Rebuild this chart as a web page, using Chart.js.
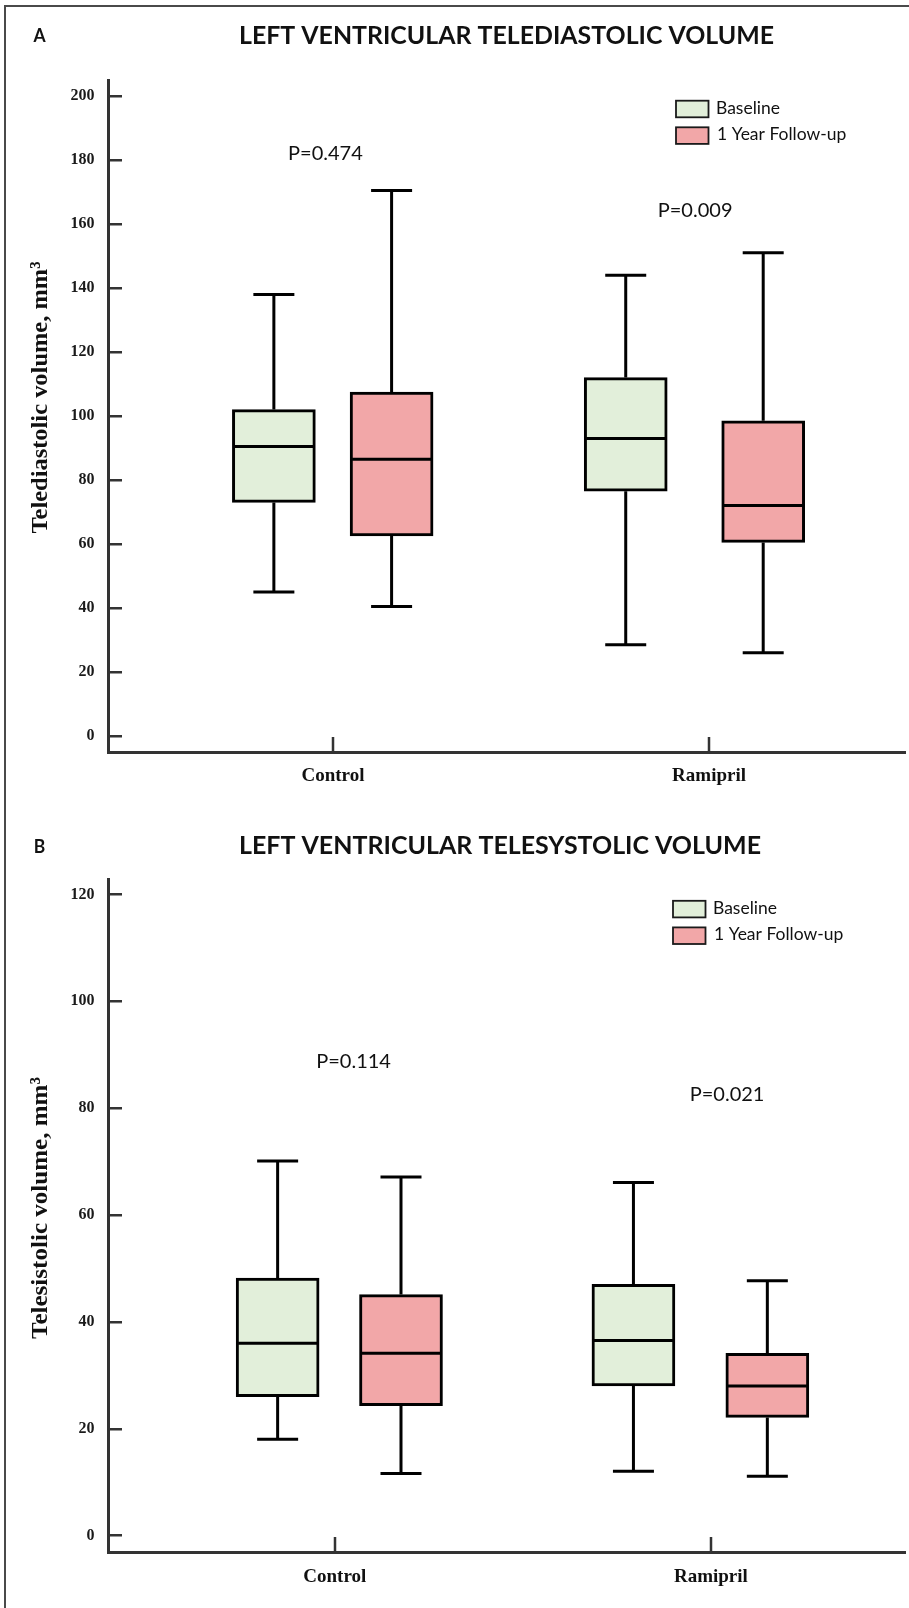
<!DOCTYPE html>
<html><head><meta charset="utf-8">
<script src="https://cdn.jsdelivr.net/npm/chart.js@4.4.0/dist/chart.umd.min.js"></script>
<style>
html,body{margin:0;padding:0;background:#fff;}
#wrap{position:relative;width:909px;height:1608px;overflow:hidden;background:#fff;}
#frame{position:absolute;left:4px;top:5px;width:910px;height:1620px;border-top:2px solid #4a4a4a;border-left:2px solid #4a4a4a;box-sizing:border-box;}
.panel{position:absolute;left:0;width:909px;}
#pa{top:0;height:800px;}
#pb{top:800px;height:808px;}
canvas{display:block;}
</style></head><body>
<div id="wrap"><div id="frame"></div>
<div class="panel" id="pa"><canvas id="ca" width="909" height="800"></canvas></div>
<div class="panel" id="pb"><canvas id="cb" width="909" height="808"></canvas></div>
</div>
<script>
// ---------------- DATA ----------------
const categories = ['Control', 'Ramipril'];
const seriesLabels = ['Baseline', '1 Year Follow-up'];
// five-number summaries per category: [min, q1, median, q3, max]
const tdvBaseline = [[45, 73, 90.5, 102, 138], [28.5, 76.5, 93, 112, 144]];
const tdvFollowUp = [[40.5, 62.5, 86.5, 107.5, 170.5], [26, 60.5, 72, 98.5, 151]];
const tsvBaseline = [[18, 26, 36, 48.2, 70.1], [12, 28, 36.5, 47, 66.1]];
const tsvFollowUp = [[11.6, 24.3, 34.1, 45.1, 67.1], [11.1, 22.1, 28, 34.1, 47.7]];
const tdvTicks = [0, 20, 40, 60, 80, 100, 120, 140, 160, 180, 200];
const tsvTicks = [0, 20, 40, 60, 80, 100, 120];
const tdvPValues = ['P=0.474', 'P=0.009'];
const tsvPValues = ['P=0.114', 'P=0.021'];
const titleA = 'LEFT VENTRICULAR TELEDIASTOLIC VOLUME';
const titleB = 'LEFT VENTRICULAR TELESYSTOLIC VOLUME';
const yTitleA = 'Telediastolic volume, mm\u00B3';
const yTitleB = 'Telesistolic volume, mm\u00B3';

// ---------------- STYLE / LAYOUT ----------------
const COLORS = ['#E2EFDA', '#F2A7A8'];
const AXIS_COLOR = '#333333';
const LAYOUT_A = {
  top: 80, xAxisH: 48, yMin: -5, yMax: 205, xMin: 0.402, xMax: 2.521,
  boxX: [[0.843, 1.156], [1.7785, 2.144]],
  pPos: [[0.98, 182], [1.963, 164.1]],
  letter: 'A', letterY: 36, title: titleA, titleX: 239, titleY: 36, titleW: 535,
  yTitle: yTitleA, yTitleY: 397.5, yTitleW: 272,
  legendX: 676, legendY: 100.7, xLabelPad: 13
};
const LAYOUT_B = {
  top: 79, xAxisH: 56, yMin: -3.1, yMax: 122.9, xMin: 0.397, xMax: 2.516,
  boxX: [[0.848, 1.176], [1.794, 2.150]],
  pPos: [[1.05, 88.7], [2.043, 82.6]],
  letter: 'B', letterY: 46.5, title: titleB, titleX: 239, titleY: 45.5, titleW: 522,
  yTitle: yTitleB, yTitleY: 408, yTitleW: 262,
  legendX: 673, legendY: 100.8, xLabelPad: 13.5
};

function drawText(ctx, text, x, y, font, align, sx, baseline) {
  ctx.save();
  ctx.font = font;
  ctx.textAlign = align;
  ctx.textBaseline = baseline || 'middle';
  ctx.translate(x, y);
  ctx.scale(sx, 1);
  ctx.fillText(text, 0, 0);
  ctx.restore();
}

const boxPlugin = {
  id: 'boxWhiskers',
  afterDatasetsDraw(chart) {
    const ctx = chart.ctx, ys = chart.scales.y;
    chart.data.datasets.forEach((ds, di) => {
      const meta = chart.getDatasetMeta(di);
      meta.data.forEach((bar, i) => {
        const st = ds.data[i].stats;
        const x = bar.x, w = bar.width;
        const pMin = ys.getPixelForValue(st[0]), pQ1 = ys.getPixelForValue(st[1]);
        const pMed = ys.getPixelForValue(st[2]), pQ3 = ys.getPixelForValue(st[3]);
        const pMax = ys.getPixelForValue(st[4]);
        ctx.save();
        ctx.strokeStyle = '#000';
        ctx.lineWidth = 3;
        ctx.lineCap = 'butt';
        ctx.beginPath();
        ctx.moveTo(x, pMax); ctx.lineTo(x, pQ3);
        ctx.moveTo(x, pQ1); ctx.lineTo(x, pMin);
        ctx.moveTo(x - 20.5, pMax); ctx.lineTo(x + 20.5, pMax);
        ctx.moveTo(x - 20.5, pMin); ctx.lineTo(x + 20.5, pMin);
        ctx.moveTo(x - w / 2 + 2, pMed); ctx.lineTo(x + w / 2 - 2, pMed);
        ctx.stroke();
        ctx.restore();
      });
    });
  }
};

const inwardTicks = {
  id: 'inwardTicks',
  afterDraw(chart) {
    const ctx = chart.ctx, ca = chart.chartArea;
    const xs = chart.scales.x, ys = chart.scales.y;
    ctx.save();
    ctx.strokeStyle = AXIS_COLOR;
    ctx.lineWidth = 2.5;
    ctx.beginPath();
    ys.ticks.forEach(t => {
      const p = Math.round(ys.getPixelForValue(t.value)) + 0.25;
      ctx.moveTo(ca.left, p); ctx.lineTo(ca.left + 14, p);
    });
    xs.ticks.forEach(t => {
      const p = Math.round(xs.getPixelForValue(t.value));
      ctx.moveTo(p, ca.bottom); ctx.lineTo(p, ca.bottom - 15);
    });
    ctx.stroke();
    ctx.restore();
  }
};

const decor = {
  id: 'decor',
  afterDraw(chart, args, o) {
    const ctx = chart.ctx;
    const L = o.layout;
    ctx.save();
    ctx.fillStyle = '#111';
    // panel letter
    drawText(ctx, L.letter, 39.5, L.letterY, 'bold 19px Lato', 'center', 0.92);
    // title (condensed to the reference width)
    ctx.font = 'bold 25px Lato';
    const sx = L.titleW / ctx.measureText(L.title).width;
    drawText(ctx, L.title, L.titleX, L.titleY, 'bold 25px Lato', 'left', sx);
    // y axis title
    ctx.font = 'bold 24px "Liberation Serif"';
    const syt = L.yTitleW / ctx.measureText(L.yTitle).width;
    ctx.save();
    ctx.translate(41, L.yTitleY);
    ctx.rotate(-Math.PI / 2);
    ctx.scale(syt, 1);
    ctx.textAlign = 'center';
    ctx.textBaseline = 'middle';
    ctx.fillText(L.yTitle, 0, 0);
    ctx.restore();
    // p values
    const xs = chart.scales.x, ys = chart.scales.y;
    o.pValues.forEach((t, i) => {
      drawText(ctx, t, xs.getPixelForValue(L.pPos[i][0]), ys.getPixelForValue(L.pPos[i][1]), '20px Lato', 'center', 1);
    });
    // legend
    chart.data.datasets.forEach((ds, i) => {
      const y0 = L.legendY + i * 26.6;
      ctx.fillStyle = ds.backgroundColor;
      ctx.fillRect(L.legendX, y0, 32.5, 16.6);
      ctx.strokeStyle = '#1a1a1a';
      ctx.lineWidth = 1.8;
      ctx.strokeRect(L.legendX, y0, 32.5, 16.6);
      ctx.fillStyle = '#111';
      drawText(ctx, ds.label, L.legendX + 40 + (i === 1 ? 1 : 0), y0 + 12.8, '17.5px Lato', 'left', 1, 'alphabetic');
    });
    ctx.restore();
  }
};

function makeChart(canvasId, baseline, followUp, ticks, pValues, L) {
  const datasets = [baseline, followUp].map((arr, s) => ({
    label: seriesLabels[s],
    data: arr.map((st, i) => ({ x: L.boxX[i][s], y: [st[1], st[3]], stats: st })),
    backgroundColor: COLORS[s],
    borderColor: '#000',
    borderWidth: 3,
    borderSkipped: false,
    barThickness: 83,
    grouped: false
  }));
  return new Chart(document.getElementById(canvasId), {
    type: 'bar',
    data: { datasets },
    plugins: [boxPlugin, inwardTicks, decor],
    options: {
      responsive: false,
      devicePixelRatio: 1,
      animation: false,
      events: [],
      layout: { padding: { top: L.top, left: 0, right: 4, bottom: 0 } },
      plugins: {
        legend: { display: false },
        tooltip: { enabled: false },
        title: { display: false },
        decor: { layout: L, pValues }
      },
      scales: {
        x: {
          type: 'linear', offset: false, min: L.xMin, max: L.xMax,
          afterBuildTicks: (s) => { s.ticks = categories.map((c, i) => ({ value: i + 1 })); },
          afterFit: (s) => { s.height = L.xAxisH; },
          grid: { display: false, drawTicks: false },
          border: { display: true, color: AXIS_COLOR, width: 3 },
          ticks: {
            autoSkip: false, maxRotation: 0, padding: L.xLabelPad, color: '#111',
            font: { family: 'Liberation Serif', size: 19, weight: 'bold' },
            callback: (v) => categories[Math.round(v) - 1] || ''
          }
        },
        y: {
          min: L.yMin, max: L.yMax,
          afterBuildTicks: (s) => { s.ticks = ticks.map(v => ({ value: v })); },
          afterFit: (s) => { s.width = 108; },
          grid: { display: false, drawTicks: false },
          border: { display: true, color: AXIS_COLOR, width: 3 },
          ticks: {
            padding: 13.5, color: '#1a1a1a',
            font: { family: 'Liberation Serif', size: 16, weight: 'bold' }
          }
        }
      }
    }
  });
}

makeChart('ca', tdvBaseline, tdvFollowUp, tdvTicks, tdvPValues, LAYOUT_A);
makeChart('cb', tsvBaseline, tsvFollowUp, tsvTicks, tsvPValues, LAYOUT_B);
</script>
</body></html>
